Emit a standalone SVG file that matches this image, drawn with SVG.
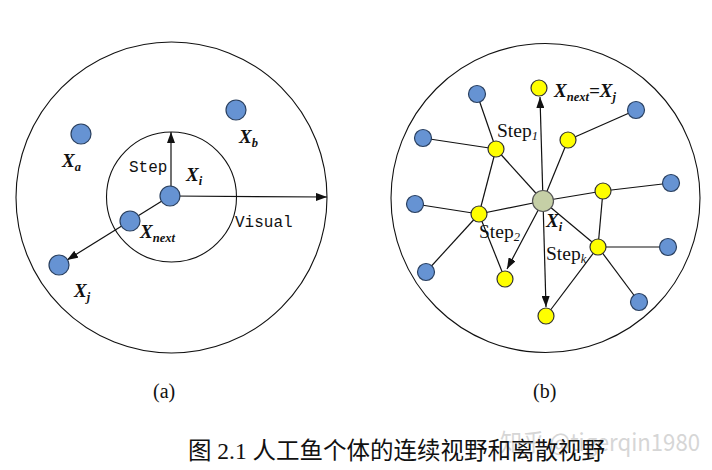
<svg xmlns="http://www.w3.org/2000/svg" width="712" height="470" viewBox="0 0 712 470">
<style>
.ring{fill:none;stroke:#111;stroke-width:1.1}
.blue{fill:#6693d3;stroke:#2a4060;stroke-width:1.2}
.yel{fill:#ffff00;stroke:#333;stroke-width:1.2}
.ctr{fill:#c5cfa6;stroke:#555;stroke-width:1.2}
.ln{stroke:#111;stroke-width:1.2;fill:none}
.arr{stroke:#111;stroke-width:1.2;fill:none;marker-end:url(#ah)}
.x{font-family:"Liberation Serif",serif;font-style:italic;font-weight:bold;font-size:19px;fill:#111}
.sub{font-size:12.5px}
.mono{font-family:"Liberation Mono",monospace;font-size:16px;fill:#111}
.serif{font-family:"Liberation Serif",serif;font-size:19.5px;fill:#111}
.lbl{font-family:"Liberation Serif",serif;font-size:20px;fill:#111}
.cap{font-family:"Liberation Serif","Noto Sans CJK SC",serif;font-size:23.5px;fill:#111}
.wm{font-family:"Noto Sans CJK SC","Liberation Sans",sans-serif;font-size:24px;fill:#d6d6d6}
</style>
<defs>
<marker id="ah" markerUnits="userSpaceOnUse" markerWidth="11" markerHeight="8" refX="11" refY="4" orient="auto">
<path d="M0,0 L11,4 L0,8 z" fill="#111"/>
</marker>
</defs>
<rect width="712" height="470" fill="#fff"/>

<!-- panel (a) -->
<g id="a-visual"><circle class="ring" cx="171.5" cy="197.5" r="155.5"/></g>
<g id="a-step"><circle class="ring" cx="171.5" cy="197" r="65"/></g>
<g id="a-connectors">
<line class="arr" x1="171" y1="196" x2="171" y2="132"/>
<line class="arr" x1="171" y1="196" x2="327" y2="197"/>
<line class="arr" x1="170" y1="196" x2="67" y2="260"/>
</g>
<g id="a-Xi"><circle class="blue" cx="170" cy="196" r="10"/><text class="x" x="186" y="181">X<tspan class="sub" dy="4">i</tspan></text></g>
<g id="a-Xa"><circle class="blue" cx="81" cy="134" r="10"/><text class="x" x="62" y="167">X<tspan class="sub" dy="4">a</tspan></text></g>
<g id="a-Xb"><circle class="blue" cx="236" cy="110" r="10"/><text class="x" x="239" y="143">X<tspan class="sub" dy="4">b</tspan></text></g>
<g id="a-Xnext"><circle class="blue" cx="130" cy="221" r="10"/><text class="x" x="140" y="238">X<tspan class="sub" dy="4">next</tspan></text></g>
<g id="a-Xj"><circle class="blue" cx="59" cy="265" r="10"/><text class="x" x="74" y="297">X<tspan class="sub" dy="4">j</tspan></text></g>
<text class="mono" x="129" y="172">Step</text>
<text class="mono" x="235" y="227">Visual</text>
<text class="lbl" x="153" y="398">(a)</text>

<!-- panel (b) -->
<g id="b-visual"><circle class="ring" cx="545.5" cy="198" r="154.5"/></g>
<g id="b-connectors">
<line class="ln" x1="543" y1="201" x2="496" y2="149"/>
<line class="ln" x1="543" y1="201" x2="568" y2="140"/>
<line class="ln" x1="543" y1="201" x2="603" y2="191"/>
<line class="ln" x1="543" y1="201" x2="479" y2="214"/>
<line class="ln" x1="543" y1="201" x2="598" y2="247"/>
<line class="ln" x1="477" y1="94" x2="496" y2="149"/>
<line class="ln" x1="423" y1="138" x2="496" y2="149"/>
<line class="ln" x1="496" y1="149" x2="479" y2="214"/>
<line class="ln" x1="636" y1="110" x2="568" y2="140"/>
<line class="ln" x1="415" y1="204" x2="479" y2="214"/>
<line class="ln" x1="426" y1="272" x2="479" y2="214"/>
<line class="ln" x1="479" y1="214" x2="505" y2="279"/>
<line class="ln" x1="603" y1="191" x2="671" y2="183"/>
<line class="ln" x1="603" y1="191" x2="598" y2="247"/>
<line class="ln" x1="598" y1="247" x2="668" y2="247"/>
<line class="ln" x1="598" y1="247" x2="639" y2="302"/>
<line class="ln" x1="598" y1="247" x2="546" y2="316"/>
<line class="arr" x1="543" y1="201" x2="540" y2="97"/>
<line class="arr" x1="543" y1="201" x2="507" y2="269"/>
<line class="arr" x1="543" y1="201" x2="546" y2="307"/>
</g>
<g id="b-B1"><circle class="blue" cx="477" cy="94" r="8.5"/></g>
<g id="b-B2"><circle class="blue" cx="423" cy="138" r="8.5"/></g>
<g id="b-B3"><circle class="blue" cx="636" cy="110" r="8.5"/></g>
<g id="b-B4"><circle class="blue" cx="415" cy="204" r="8.5"/></g>
<g id="b-B5"><circle class="blue" cx="671" cy="183" r="8.5"/></g>
<g id="b-B6"><circle class="blue" cx="426" cy="272" r="8.5"/></g>
<g id="b-B7"><circle class="blue" cx="668" cy="247" r="8.5"/></g>
<g id="b-B8"><circle class="blue" cx="639" cy="302" r="8.5"/></g>
<g id="b-Y1"><circle class="yel" cx="539" cy="88" r="8"/><text class="x" x="554" y="97">X<tspan class="sub" dy="4">next</tspan><tspan dy="-4">=X</tspan><tspan class="sub" dy="4">j</tspan></text></g>
<g id="b-Y2"><circle class="yel" cx="496" cy="149" r="8"/></g>
<g id="b-Y3"><circle class="yel" cx="568" cy="140" r="8"/></g>
<g id="b-Y4"><circle class="yel" cx="603" cy="191" r="8"/></g>
<g id="b-Y5"><circle class="yel" cx="479" cy="214" r="8"/></g>
<g id="b-Y6"><circle class="yel" cx="598" cy="247" r="8"/></g>
<g id="b-Y7"><circle class="yel" cx="505" cy="279" r="8"/></g>
<g id="b-Y8"><circle class="yel" cx="546" cy="316" r="8"/></g>
<g id="b-Xi"><circle class="ctr" cx="543" cy="201" r="10.5"/><text class="x" x="546" y="227">X<tspan class="sub" dy="4">i</tspan></text></g>
<text class="serif" x="497" y="137">Step<tspan class="sub" font-style="italic" dy="3">1</tspan></text>
<text class="serif" x="479" y="238">Step<tspan class="sub" font-style="italic" dy="3">2</tspan></text>
<text class="serif" x="546" y="260">Step<tspan class="sub" font-style="italic" dy="3">k</tspan></text>
<text class="lbl" x="533" y="398">(b)</text>

<text class="wm" x="500" y="451" textLength="200" lengthAdjust="spacingAndGlyphs">知乎 @tigerqin1980</text>
<text class="cap" x="188" y="459">图 2.1 人工鱼个体的连续视野和离散视野</text>
</svg>
